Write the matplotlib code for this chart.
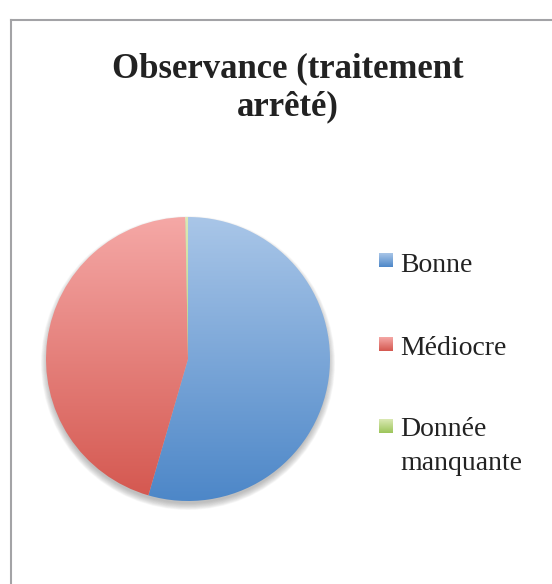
import numpy as np
import matplotlib
matplotlib.use("Agg")
import matplotlib.pyplot as plt
from matplotlib.colors import LinearSegmentedColormap
from matplotlib.patches import Rectangle, Circle

title_lines = ["Observance (traitement", "arrêté)"]
labels = ["Bonne", "Médiocre", "Donnée\nmanquante"]
values = [54.5, 45.2, 0.3]
tops = ["#a9c6e8", "#f5a8a6", "#dbe9b4"]
bottoms = ["#4d87c8", "#d4574f", "#9cc55a"]

W, H = 552, 584
fig = plt.figure(figsize=(W / 100, H / 100), dpi=100)
ax = fig.add_axes([0, 0, 1, 1])
ax.set_xlim(0, W)
ax.set_ylim(0, H)
ax.axis("off")

cx, cy, r = 188, H - 359, 142

# soft shadow under the pie
for i in range(12):
    ax.add_patch(Circle((cx, cy - 4), r + 5 - i * 0.6, color="#808080",
                        alpha=0.05, lw=0, zorder=1))

wedges, _ = ax.pie(values, center=(cx, cy), radius=r, startangle=90,
                   counterclock=False, frame=True,
                   wedgeprops=dict(linewidth=0))


def grad_fill(patch, top, bottom, extent):
    cmap = LinearSegmentedColormap.from_list("g", [bottom, top])
    grad = np.linspace(0, 1, 256).reshape(-1, 1)
    im = ax.imshow(grad, cmap=cmap, extent=extent, origin="lower",
                   aspect="auto", zorder=3, interpolation="bilinear")
    im.set_clip_path(patch)


for w, t, b in zip(wedges, tops, bottoms):
    w.set_facecolor("none")
    w.set_zorder(2)
    grad_fill(w, t, b, (cx - r, cx + r, cy - r, cy + r))

# legend (square centre, text baseline of first line)
sq_y = [H - 260, H - 344, H - 426]
base_y = [H - 272, H - 355, H - 436]
for lab, t, b, sy, by in zip(labels, tops, bottoms, sq_y, base_y):
    sq = Rectangle((379, sy - 7), 14, 14, facecolor="none", lw=0)
    ax.add_patch(sq)
    grad_fill(sq, t, b, (379, 393, sy - 7, sy + 7))
    for k, line in enumerate(lab.split("\n")):
        ax.text(400, by - k * 34, line, fontsize=20,
                family="Liberation Serif", color="#222222", va="baseline")

for line, by in zip(title_lines, [H - 77, H - 115]):
    ax.text(288, by, line, ha="center", va="baseline", fontsize=25,
            family="Liberation Serif", fontweight="bold", color="#222222")

# chart frame
ax.plot([11, 11], [0, H - 20], color="#a3a3a6", lw=1.5, zorder=5)
ax.plot([11, W], [H - 20, H - 20], color="#a3a3a6", lw=1.5, zorder=5)

ax.set_xlim(0, W)
ax.set_ylim(0, H)
ax.set_aspect("auto")
fig.savefig("out.png", dpi=100)
